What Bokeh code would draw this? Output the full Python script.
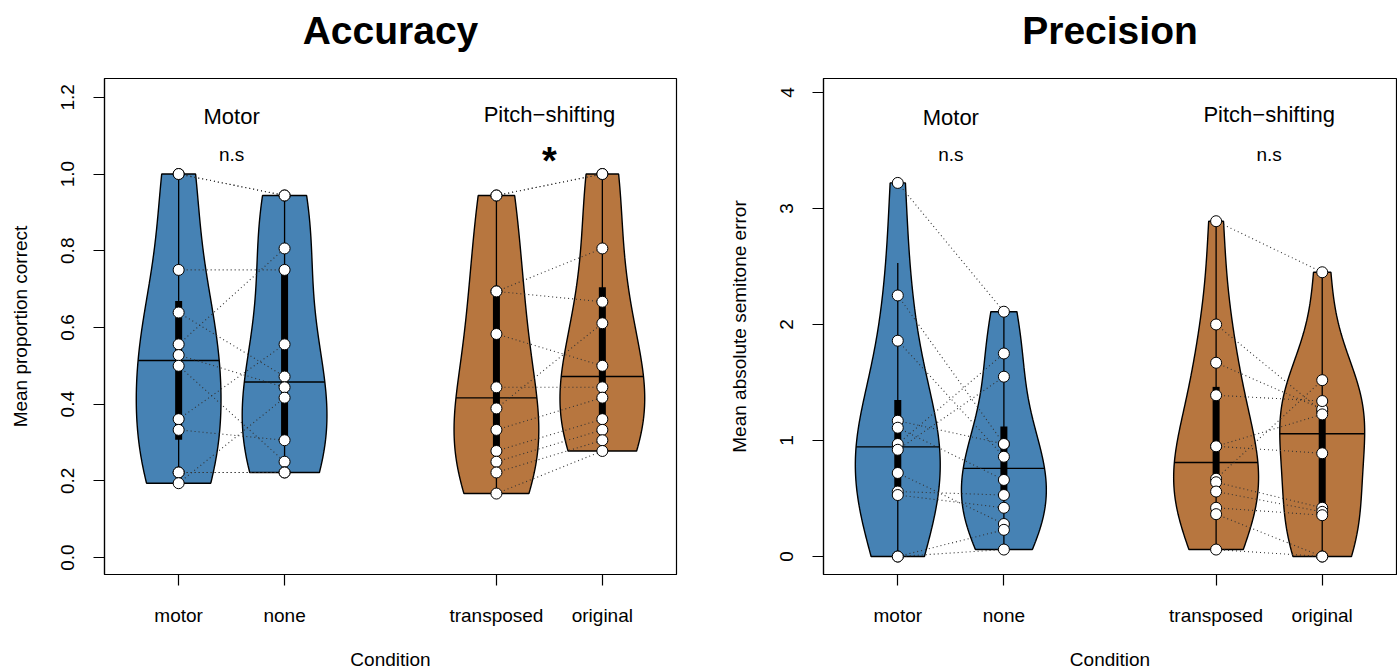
import numpy as np
from bokeh.plotting import figure
from bokeh.layouts import row, column
from bokeh.models import Range1d, FixedTicker
from bokeh.core.properties import value
from bokeh.embed import file_html
from bokeh.resources import INLINE

# ---------------- data ----------------
conditions = ["motor", "none", "transposed", "original"]
group_labels = ["Motor", "Pitch\u2212shifting"]
colors = ["#4682B4", "#4682B4", "#B7763F", "#B7763F"]

# Accuracy (paired per participant, same order within each pair of conditions)
acc_motor = [1.000, 1.000, 0.750, 0.639, 0.556, 0.528, 0.500, 0.361, 0.333, 0.222, 0.222, 0.194]
acc_none = [0.944, 0.944, 0.750, 0.472, 0.806, 0.444, 0.250, 0.556, 0.306, 0.222, 0.222, 0.417]
acc_transposed = [0.944, 0.944, 0.694, 0.694, 0.583, 0.444, 0.389, 0.333, 0.278, 0.250, 0.222, 0.167]
acc_original = [1.000, 1.000, 0.806, 0.667, 0.500, 0.444, 0.611, 0.417, 0.361, 0.333, 0.306, 0.278]
acc_box_lo = [0.307, 0.296, 0.285, 0.350]
acc_box_hi = [0.669, 0.761, 0.692, 0.705]
acc_whisk_lo = [0.194, 0.222, 0.167, 0.278]
acc_whisk_hi = [1.000, 0.944, 0.944, 1.000]
acc_signif = ["n.s", "*"]

# Precision
prec_motor = [3.22, 2.25, 1.86, 1.17, 1.11, 0.97, 0.92, 0.72, 0.56, 0.53, 0.00, 0.00]
prec_none = [2.11, 0.97, 0.86, 0.97, 0.66, 1.75, 1.55, 0.28, 0.53, 0.42, 0.23, 0.06]
prec_transposed = [2.89, 2.00, 1.67, 1.39, 0.95, 0.67, 0.95, 0.64, 0.56, 0.42, 0.365, 0.06]
prec_original = [2.45, 1.25, 1.27, 1.34, 0.89, 1.52, 1.225, 0.42, 0.385, 0.356, 0.00, 0.00]
prec_box_lo = [0.598, 0.550, 0.698, 0.430]
prec_box_hi = [1.348, 1.120, 1.462, 1.240]
prec_whisk_lo = [0.00, 0.06, 0.06, 0.00]
prec_whisk_hi = [2.53, 2.11, 2.89, 2.45]
prec_signif = ["n.s", "n.s"]

acc_ticks = [0.0, 0.2, 0.4, 0.6, 0.8, 1.0, 1.2]
prec_ticks = [0, 1, 2, 3, 4]

FONT = "Liberation Sans"
TITLE_H = 76      # height of the title strip above each panel
BOX_H = 500       # height of the plot box
BOTTOM = 94


def kde(vals, grid):
    v = np.asarray(vals, dtype=float)
    n = len(v)
    h = v.std(ddof=1) * (4.0 / (3.0 * n)) ** 0.2
    d = np.exp(-0.5 * ((np.atleast_1d(grid)[:, None] - v[None, :]) / h) ** 2).sum(axis=1)
    return d


def make_title(title, width, border_left, border_right, title_px):
    t = figure(width=width, height=TITLE_H, x_range=Range1d(0.3, 5.7),
               y_range=Range1d(0, TITLE_H), output_backend="svg", toolbar_location=None,
               min_border_left=border_left, min_border_right=border_right,
               min_border_top=0, min_border_bottom=0,
               x_axis_location=None, y_axis_location=None)
    t.grid.visible = False
    t.outline_line_color = None
    t.text([3.0], [TITLE_H - title_px], text=[title], text_font=value(FONT),
           text_font_size="39px", text_font_style="bold", text_align="center",
           text_baseline="middle", text_color="black")
    return t


def make_panel(ylab, series, box_lo, box_hi, wlo, whi, signif, yr, ticks, fmt,
               width, border_left, border_right, label_px, signif_px, star_px):
    ylo, yhi = yr
    scale = BOX_H / (yhi - ylo)

    def px2y(px):          # px measured from the top of the whole page
        return yhi - (px - TITLE_H - 2) / scale

    p = figure(width=width, height=2 + BOX_H + BOTTOM, x_range=Range1d(0.3, 5.7),
               y_range=Range1d(ylo, yhi), output_backend="svg",
               toolbar_location=None, min_border_left=border_left,
               min_border_right=border_right, min_border_top=2, min_border_bottom=BOTTOM)
    p.xgrid.grid_line_color = None
    p.ygrid.grid_line_color = None
    p.outline_line_color = "black"
    p.outline_line_width = 1.2
    p.background_fill_color = "white"
    p.border_fill_color = "white"

    positions = [1, 2, 4, 5]
    # violins
    for i, vals in enumerate(series):
        x0 = positions[i]
        v = np.asarray(vals, dtype=float)
        grid = np.linspace(v.min(), v.max(), 256)
        d = kde(v, grid)
        hw = d / d.max() * 0.4
        xs = np.concatenate([x0 - hw, (x0 + hw)[::-1]])
        ys = np.concatenate([grid, grid[::-1]])
        p.patch(xs, ys, fill_color=colors[i], line_color="black", line_width=1.4)
        # whisker
        p.segment(x0=[x0], y0=[wlo[i]], x1=[x0], y1=[whi[i]], line_color="black", line_width=1.3)
        # box
        p.segment(x0=[x0], y0=[box_lo[i]], x1=[x0], y1=[box_hi[i]], line_color="black",
                  line_width=7, line_cap="butt")
        # median line across violin
        med = float(np.median(v))
        wm = kde(v, med)[0] / d.max() * 0.4
        p.segment(x0=[x0 - wm], y0=[med], x1=[x0 + wm], y1=[med], line_color="black", line_width=1.4)

    # paired dotted lines
    for a, b in [(0, 1), (2, 3)]:
        va, vb = series[a], series[b]
        p.segment(x0=[positions[a]] * len(va), y0=va, x1=[positions[b]] * len(vb), y1=vb,
                  line_color="#333333", line_width=1.1, line_dash="1 3")
    # points
    for i, vals in enumerate(series):
        p.scatter([positions[i]] * len(vals), vals, size=11, fill_color="white",
                  line_color="black", line_width=1)

    # group labels and significance
    for g in range(2):
        xc = (positions[2 * g] + positions[2 * g + 1]) / 2.0
        p.text([xc], [px2y(label_px[g])], text=[group_labels[g]], text_font=value(FONT),
               text_font_size="22px", text_align="center", text_baseline="middle",
               text_color="black")
        s = signif[g]
        if s == "*":
            p.text([xc], [px2y(star_px)], text=[s], text_font=value(FONT), text_font_size="38px",
                   text_font_style="bold", text_align="center", text_baseline="middle",
                   text_color="black")
        else:
            p.text([xc], [px2y(signif_px)], text=[s], text_font=value(FONT), text_font_size="19px",
                   text_align="center", text_baseline="middle", text_color="black")

    # axes
    p.xaxis.ticker = FixedTicker(ticks=positions)
    p.xaxis.major_label_overrides = {pos: c for pos, c in zip(positions, conditions)}
    p.yaxis.ticker = FixedTicker(ticks=ticks)
    p.yaxis.major_label_overrides = {t: fmt.format(t) for t in ticks}
    p.yaxis.major_label_orientation = "vertical"
    for ax in [p.xaxis[0], p.yaxis[0]]:
        ax.axis_line_color = "black"
        ax.axis_line_width = 1.2
        ax.major_tick_line_color = "black"
        ax.major_tick_line_width = 1.2
        ax.major_tick_out = 11
        ax.major_tick_in = 0
        ax.minor_tick_out = 0
        ax.minor_tick_in = 0
        ax.major_label_text_font = FONT
        ax.major_label_text_font_size = "19px"
        ax.major_label_text_color = "black"
        ax.axis_label_text_font = FONT
        ax.axis_label_text_font_size = "19px"
        ax.axis_label_text_font_style = "normal"
        ax.axis_label_text_color = "black"
    p.xaxis.major_label_standoff = 19
    p.yaxis.major_label_standoff = 19
    p.xaxis.axis_label = "Condition"
    p.xaxis.axis_label_standoff = 20
    p.yaxis.axis_label = ylab
    p.yaxis.axis_label_standoff = 28
    return p


t1 = make_title("Accuracy", 719, 104, 43, 30)
t2 = make_title("Precision", 678, 104, 1, 30)
p1 = make_panel("Mean proportion correct",
                [acc_motor, acc_none, acc_transposed, acc_original],
                acc_box_lo, acc_box_hi, acc_whisk_lo, acc_whisk_hi, acc_signif,
                (-0.044, 1.249), acc_ticks, "{:.1f}", 719, 104, 43,
                [116, 114], 155, 161)
p2 = make_panel("Mean absolute semitone error",
                [prec_motor, prec_none, prec_transposed, prec_original],
                prec_box_lo, prec_box_hi, prec_whisk_lo, prec_whisk_hi, prec_signif,
                (-0.155, 4.12), prec_ticks, "{:d}", 678, 104, 1,
                [117, 114], 155, 161)

layout = column(row(t1, t2), row(p1, p2))
open("out.html", "w").write(file_html(layout, INLINE))
